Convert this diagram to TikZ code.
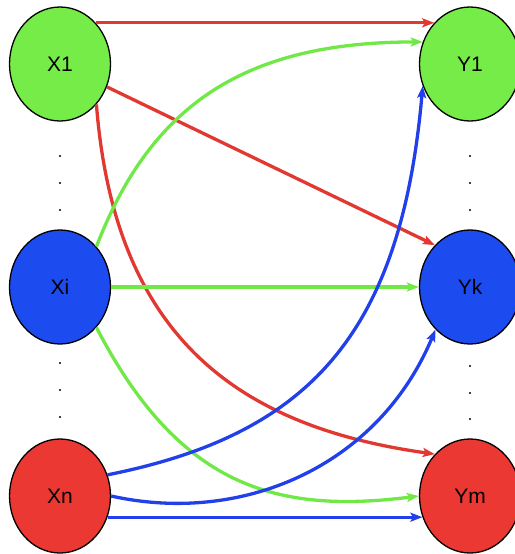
\documentclass[tikz,border=0pt]{standalone}
\usepackage{fontspec}
\setmainfont{Liberation Sans}
\usetikzlibrary{shapes.geometric,arrows.meta}
\definecolor{nodegreen}{RGB}{118,236,72}
\definecolor{nodeblue}{RGB}{28,76,240}
\definecolor{nodered}{RGB}{236,56,50}
\definecolor{linkred}{RGB}{226,56,50}
\definecolor{linkgreen}{RGB}{112,232,70}
\definecolor{linkblue}{RGB}{34,64,234}
\tikzset{
  var/.style={ellipse, draw=black, line width=1.3pt, minimum width=101pt,
    minimum height=114pt, inner sep=0pt, font=\fontsize{21}{25}\selectfont},
  link/.style={line width=3.3pt, -{Stealth[length=12pt,width=9pt,inset=2.5pt]}},
  dotmark/.style={fill=black},
}
\begin{document}
\begin{tikzpicture}[x=1pt,y=-1pt]
\useasboundingbox (0,0) rectangle (514,554);

% input variables
\node[var, fill=nodegreen] (X1) at (60,64)  {X1};
\node[var, fill=nodeblue]  (Xi) at (60,287) {Xi};
\node[var, fill=nodered]   (Xn) at (60,496) {Xn};
% output variables
\node[var, fill=nodegreen] (Y1) at (470,64)  {Y1};
\node[var, fill=nodeblue]  (Yk) at (470,287) {Yk};
\node[var, fill=nodered]   (Ym) at (470,496) {Ym};

% ellipsis dots between the variables
\foreach \y in {156,183,210,363,390,417}
  \fill[dotmark] (60,\y) circle (1.2pt);
\foreach \y in {156,183,210,366,393,419}
  \fill[dotmark] (470,\y) circle (1.2pt);

% links from X1
\draw[link, linkred] (X1.49) -- (Y1.131);
\draw[link, linkred] (X1.-26) -- (Yk.130);
\draw[link, linkred] (X1.-48) .. controls +(18,230) and +(-200,-28) .. (Ym.130);

% links from Xi
\draw[link, linkgreen] (Xi.48) .. controls +(54,-140) and +(-180,0) .. (Y1.155);
\draw[link, linkgreen] (Xi.0) -- (Yk.180);
\draw[link, linkgreen] (Xi.-48) .. controls +(83,160) and +(-142,18) .. (Ym.180);

% links from Xn
\draw[link, linkblue] (Xn.24) .. controls +(200,-40) and +(-22,250) .. (Y1.205);
\draw[link, linkblue] (Xn.0) .. controls +(130,29) and +(-58,138) .. (Yk.231);
\draw[link, linkblue] (Xn.-24) -- (Ym.204);
\end{tikzpicture}
\end{document}
